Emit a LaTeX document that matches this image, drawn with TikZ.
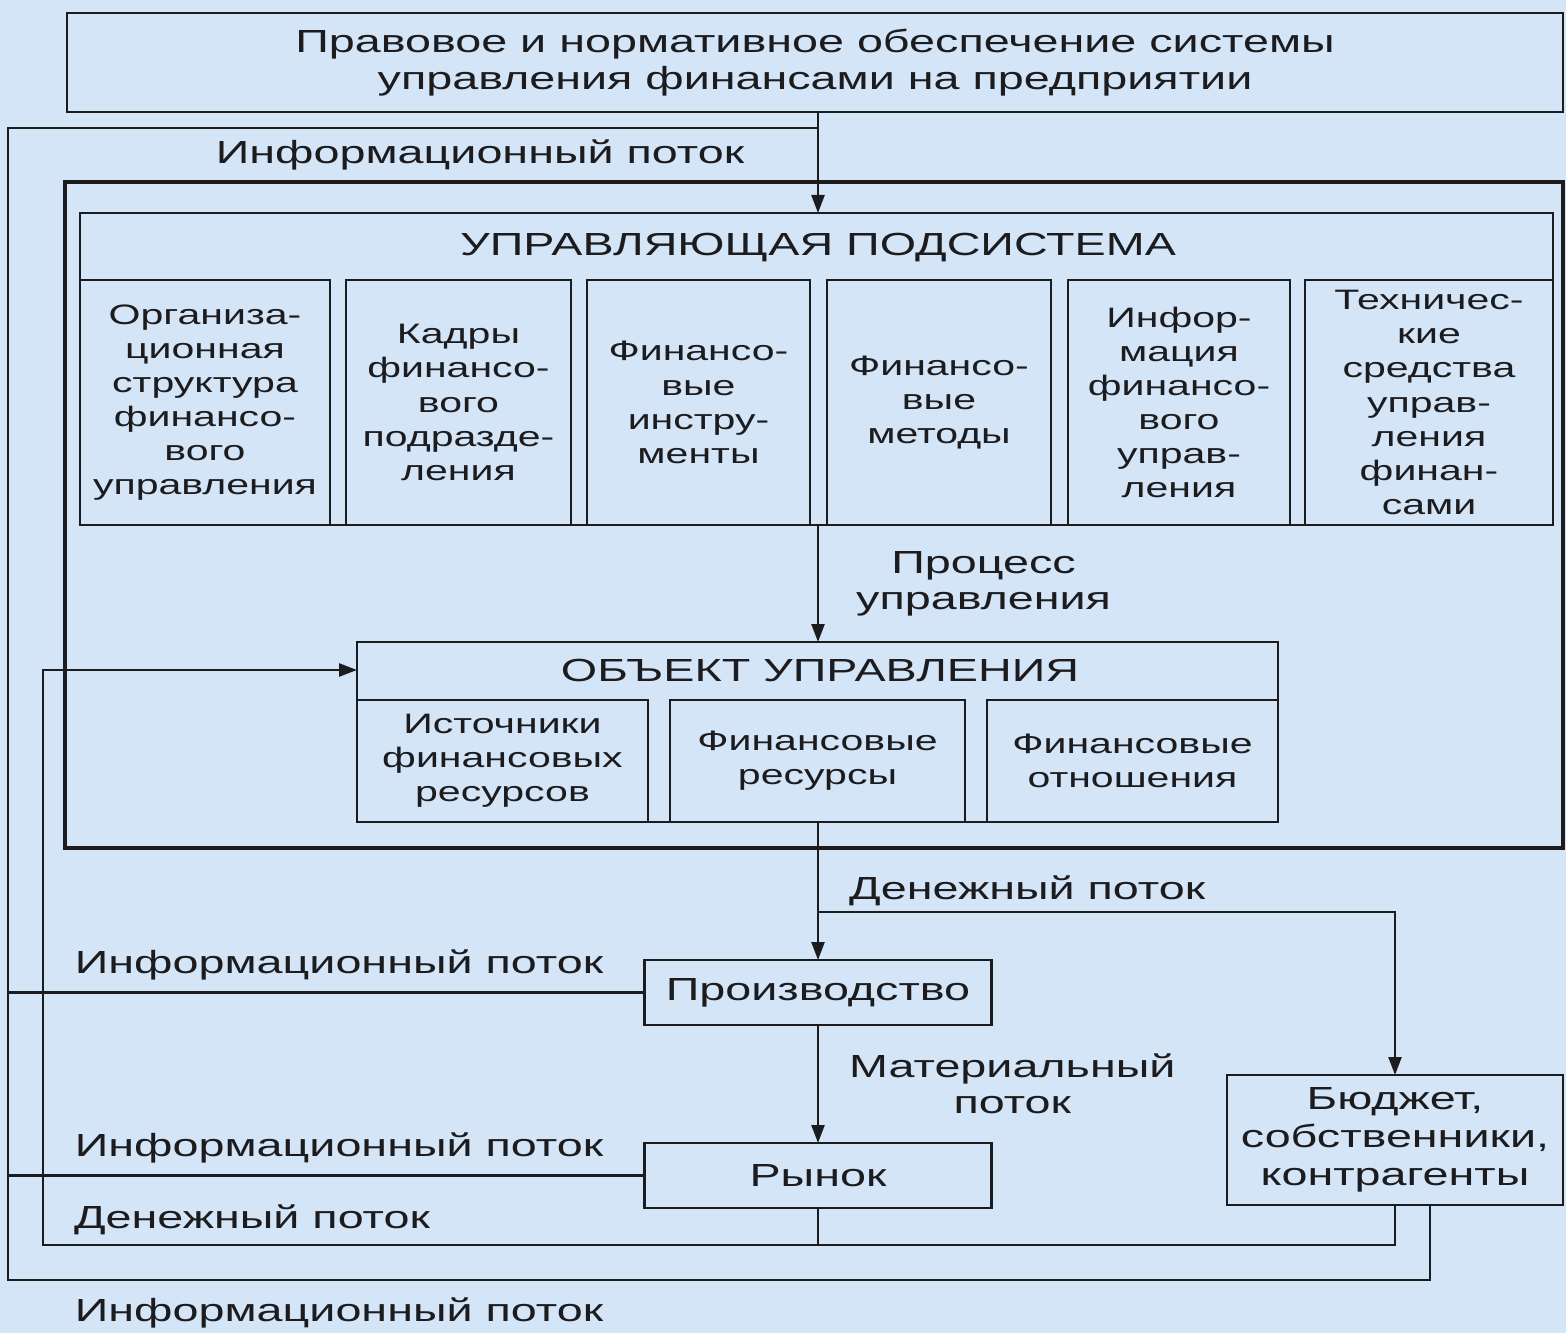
\documentclass[tikz,border=0pt]{standalone}
\usepackage{fontspec}
\setmainfont{Liberation Sans}[FakeStretch=1.46]
\usepackage{tikz}
\usetikzlibrary{arrows.meta}
\definecolor{bgblue}{RGB}{213,229,248}
\definecolor{ink}{RGB}{28,28,30}

\begin{document}
\begin{tikzpicture}[x=0.1mm,y=-0.1mm,color=ink,line width=0.7pt,
	>={Triangle[length=1.8mm,width=1.3mm]},
	box/.style={draw,inner sep=0pt,outer sep=0pt,align=center,font=\fontsize{9.1}{10.3}\selectfont},
	cell/.style={box,font=\fontsize{8}{9.7}\selectfont},
	lbl/.style={inner sep=0pt,align=center,font=\fontsize{9.1}{10.3}\selectfont}]
	\fill[bgblue] (0,0) rectangle (1566,1333);
	% boxes
	\node[box,minimum width=149.6mm,minimum height=9.9mm] (pravo) at (815,62.5)
		{Правовое и нормативное обеспечение системы\\управления финансами на предприятии};
	\node[box,line width=1.1pt,minimum width=149.8mm,minimum height=66.6mm] (sys) at (814,515) {};
	\node[box,minimum width=147.3mm,minimum height=31.2mm] (upr) at (816.5,369) {};
	\node[lbl] (uprh) at (818,248) {УПРАВЛЯЮЩАЯ ПОДСИСТЕМА};
	\node[cell,minimum width=25mm,minimum height=24.5mm] (s1) at (205,402.5)
		{Организа-\\ционная\\структура\\финансо-\\вого\\управления};
	\node[cell,minimum width=22.5mm,minimum height=24.5mm] (s2) at (458.5,402.5)
		{Кадры\\финансо-\\вого\\подразде-\\ления};
	\node[cell,minimum width=22.3mm,minimum height=24.5mm] (s3) at (698.5,402.5)
		{Финансо-\\вые\\инстру-\\менты};
	\node[cell,minimum width=22.4mm,minimum height=24.5mm] (s4) at (939,402.5)
		{Финансо-\\вые\\методы};
	\node[cell,minimum width=22.2mm,minimum height=24.5mm] (s5) at (1179,402.5)
		{Инфор-\\мация\\финансо-\\вого\\управ-\\ления};
	\node[cell,minimum width=24.8mm,minimum height=24.5mm] (s6) at (1429,402.5)
		{Техничес-\\кие\\средства\\управ-\\ления\\финан-\\сами};
	\node[box,minimum width=92.1mm,minimum height=18mm] (obj) at (817.5,732) {};
	\node[lbl] (objh) at (820,670) {ОБЪЕКТ УПРАВЛЕНИЯ};
	\node[cell,minimum width=29.1mm,minimum height=12.2mm] (o1) at (502.5,761)
		{Источники\\финансовых\\ресурсов};
	\node[cell,minimum width=29.5mm,minimum height=12.2mm] (o2) at (817.5,761)
		{Финансовые\\ресурсы};
	\node[cell,minimum width=29.1mm,minimum height=12.2mm] (o3) at (1132.5,761)
		{Финансовые\\отношения};
	\node[box,minimum width=34.7mm,minimum height=6.5mm] (prod) at (818,992.5) {Производство};
	\node[box,minimum width=34.7mm,minimum height=6.5mm] (ryn) at (818,1175.5) {Рынок};
	\node[box,minimum width=33.6mm,minimum height=13mm,font=\fontsize{9.1}{10.8}\selectfont] (budget) at (1395,1140)
		{Бюджет,\\собственники,\\контрагенты};
	% loop corners
	\coordinate (lt) at (8,128);
	\coordinate (lb) at (8,1280);
	\coordinate (mb) at (43,1245);
	% flows
	\draw[->] (pravo.south -| prod) -- (upr.north -| prod);
	\draw ([xshift=3.5mm]budget.south) |- (lb) -- (lt) -- (lt -| prod);
	\draw[->] (budget.south) |- (mb) |- (obj.west |- objh);
	\draw (ryn.south) -- (ryn.south |- mb);
	\draw (prod.west) -- (prod.west -| lt);
	\draw (ryn.west) -- (ryn.west -| lt);
	\draw[->] ([yshift=4.8mm]prod.north) -| (budget.north);
	\path[->]
	(upr.south -| prod) edge node[lbl,right,xshift=3.7mm] {Процесс\\управления} (obj.north -| prod)
	(obj.south -| prod) edge node[lbl,right,xshift=3mm] {Денежный поток} (prod.north)
	(prod.south) edge node[lbl,right,xshift=3mm] {Материальный\\поток} (ryn.north);
	% labels
	\node[lbl] (info1) at (480,155) {Информационный поток};
	\node[lbl] (info2) at (339,965) {Информационный поток};
	\node[lbl] (info3) at (339,1148) {Информационный поток};
	\node[lbl] (money) at (252,1220) {Денежный поток};
	\node[lbl] (info4) at (339,1313) {Информационный поток};
\end{tikzpicture}
\end{document}
